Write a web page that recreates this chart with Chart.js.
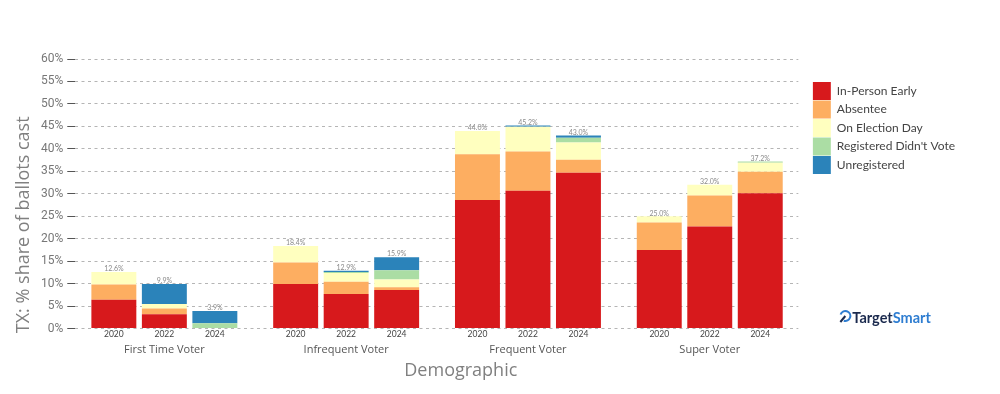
<!DOCTYPE html>
<html>
<head>
<meta charset="utf-8">
<script src="https://cdn.jsdelivr.net/npm/chart.js@4.4.1/dist/chart.umd.min.js"></script>
<style>
  html, body { margin: 0; padding: 0; background: #fff; }
</style>
</head>
<body>
<canvas id="chart" width="1000" height="394"></canvas>
<script>
// categories
const groups = ["First Time Voter", "Infrequent Voter", "Frequent Voter", "Super Voter"];
const years = ["2020", "2022", "2024"];
const GROUP_STEP = 3.6; // distance between groups, in bar slots

// series, one value per bar: group by group, 2020 / 2022 / 2024
const inPersonEarly    = [6.4, 3.2, 0,   9.9, 7.7, 8.6, 28.6, 30.7, 34.7, 17.5, 22.7, 30.1];
const absentee         = [3.4, 1.3, 0,   4.8, 2.7, 0.6, 10.2,  8.7,  2.9,  6.1,  6.9,  4.8];
const onElectionDay    = [2.8, 1.0, 0,   3.7, 2.0, 1.7,  5.2,  5.5,  3.8,  1.4,  2.4,  2.0];
const registeredNoVote = [0,   0,   1.2, 0,   0.2, 2.1,  0,    0,    1.1,  0,    0,    0.3];
const unregistered     = [0,   4.4, 2.7, 0,   0.3, 2.9,  0,    0.3,  0.5,  0,    0,    0];

const seriesNames = ["In-Person Early", "Absentee", "On Election Day", "Registered Didn't Vote", "Unregistered"];
const seriesColors = ["#d7191c", "#fdae61", "#ffffbf", "#abdda4", "#2b83ba"];
const seriesValues = [inPersonEarly, absentee, onElectionDay, registeredNoVote, unregistered];

// y ticks
const yMax = 60;
const yStep = 5;

// bar positions on the x axis
const barPos = [];
groups.forEach((g, gi) => years.forEach((y, yi) => barPos.push(gi * GROUP_STEP + yi)));
const groupPos = groups.map((g, gi) => gi * GROUP_STEP + 1);
const xMin = -0.764;
const xMax = (groups.length - 1) * GROUP_STEP + 2 + 0.754;

const datasets = seriesNames.map((name, k) => ({
  label: name,
  data: seriesValues[k].map((v, j) => ({ x: barPos[j], y: v })),
  backgroundColor: seriesColors[k],
  borderWidth: 0,
  stack: "all"
}));

// totals above bars, axis titles and the logo
const extras = {
  id: "extras",
  afterDatasetsDraw(chart) {
    const ctx = chart.ctx;
    const xs = chart.scales.x, ys = chart.scales.y;
    const area = chart.chartArea;
    ctx.save();
    ctx.font = "7px Lato";
    ctx.fillStyle = "#8a8a8a";
    ctx.textAlign = "center";
    ctx.textBaseline = "middle";
    barPos.forEach((p, j) => {
      const total = seriesValues.reduce((s, arr) => s + arr[j], 0);
      ctx.fillText(total.toFixed(1) + "%", xs.getPixelForValue(p), ys.getPixelForValue(total) - 3);
    });

    // axis titles
    ctx.fillStyle = "#808080";
    ctx.font = "18px 'Open Sans'";
    ctx.fillText("Demographic", (area.left + area.right) / 2 + 24, 371);
    ctx.save();
    ctx.translate(24, (area.top + area.bottom) / 2 + 31);
    ctx.rotate(-Math.PI / 2);
    ctx.fillText("TX: % share of ballots cast", 0, 0);
    ctx.restore();

    // logo
    const lx = area.right + 45, ly = 318;
    ctx.lineWidth = 2;
    ctx.strokeStyle = "#2e7dd1";
    ctx.beginPath();
    ctx.arc(lx + 2, ly - 2, 5, -Math.PI * 0.9, Math.PI * 0.6);
    ctx.stroke();
    ctx.strokeStyle = "#1b2a4e";
    ctx.beginPath();
    ctx.moveTo(lx + 2, ly - 2);
    ctx.lineTo(lx - 3, ly + 4);
    ctx.stroke();
    ctx.font = "bold 14.5px Lato";
    ctx.textAlign = "left";
    ctx.fillStyle = "#1b2a4e";
    ctx.fillText("Target", lx + 9, ly);
    const w = ctx.measureText("Target").width;
    ctx.fillStyle = "#2e7dd1";
    ctx.fillText("Smart", lx + 9 + w, ly);
    ctx.restore();
  }
};

new Chart(document.getElementById("chart"), {
  type: "bar",
  data: { datasets },
  plugins: [extras],
  options: {
    responsive: false,
    animation: false,
    layout: { padding: { left: 37, top: 59, right: 35, bottom: 36 } },
    datasets: { bar: { barPercentage: 0.89, categoryPercentage: 1 } },
    scales: {
      x: {
        type: "linear",
        offset: false,
        min: xMin,
        max: xMax,
        stacked: true,
        grid: { display: false, drawTicks: false, offset: false },
        border: { display: false },
        afterBuildTicks: axis => { axis.ticks = barPos.map(v => ({ value: v })); },
        ticks: {
          autoSkip: false,
          maxRotation: 0,
          padding: 1,
          color: "#444",
          font: { family: "Lato", size: 8.5 },
          callback: (v, i) => years[i % years.length]
        }
      },
      x2: {
        type: "linear",
        position: "bottom",
        offset: false,
        min: xMin,
        max: xMax,
        grid: { display: false, drawTicks: false, offset: false },
        border: { display: false },
        afterBuildTicks: axis => { axis.ticks = groupPos.map(v => ({ value: v })); },
        ticks: {
          autoSkip: false,
          maxRotation: 0,
          padding: 2,
          color: "#555",
          font: { family: "'Open Sans'", size: 11 },
          callback: (v, i) => groups[i]
        }
      },
      y: {
        min: 0,
        max: yMax,
        stacked: true,
        grid: {
          color: "#b5b5b5",
          tickColor: "#555",
          tickLength: 8,
          tickBorderDash: []
        },
        border: { display: false, dash: [3, 3.5] },
        ticks: {
          stepSize: yStep,
          padding: 4,
          color: "#777",
          font: { family: "Roboto", size: 12 },
          callback: v => v + "%"
        }
      },
      y2: {
        type: "linear",
        position: "right",
        grid: { drawOnChartArea: false, tickLength: 14, tickColor: "rgba(0,0,0,0)" },
        border: { display: false },
        ticks: { display: false }
      }
    },
    plugins: {
      tooltip: { enabled: false },
      legend: {
        position: "right",
        align: "start",
        title: { display: true, text: "", font: { size: 10, lineHeight: 1 }, padding: { top: 12.5, bottom: 0 } },
        labels: {
          boxWidth: 18,
          boxHeight: 18,
          padding: 0.5,
          color: "#444",
          font: { family: "Lato", size: 12 }
        }
      }
    }
  }
});
</script>
</body>
</html>
